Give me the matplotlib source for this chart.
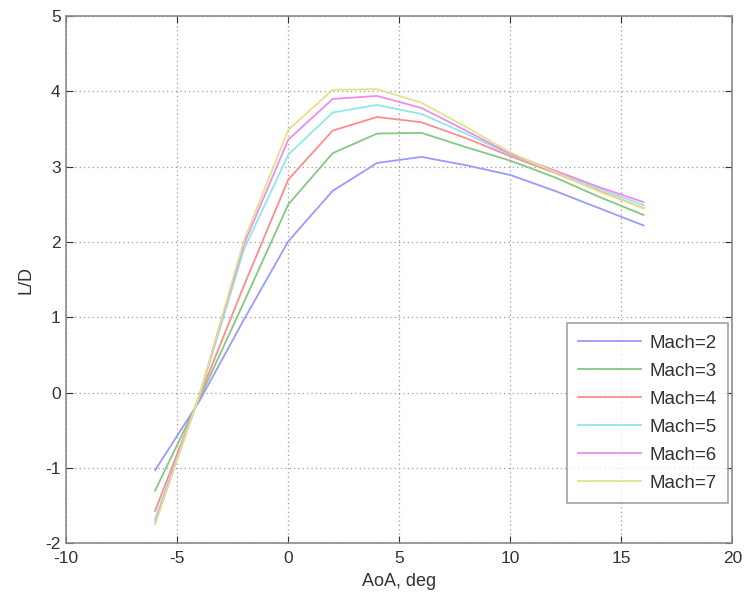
import matplotlib.pyplot as plt

plt.rcParams['font.family'] = ['Liberation Sans', 'DejaVu Sans']
plt.rcParams['axes.unicode_minus'] = False

aoa = [-6, -4, -2, 0, 2, 4, 6, 8, 10, 12, 14, 16]
ld_mach2 = [-1.03, -0.11, 0.97, 2.01, 2.68, 3.05, 3.13, 3.02, 2.89, 2.68, 2.45, 2.22]
ld_mach3 = [-1.30, -0.08, 1.20, 2.50, 3.18, 3.44, 3.45, 3.26, 3.08, 2.86, 2.60, 2.36]
ld_mach4 = [-1.57, -0.05, 1.42, 2.83, 3.48, 3.66, 3.59, 3.38, 3.14, 2.92, 2.68, 2.45]
ld_mach5 = [-1.68, -0.04, 1.90, 3.16, 3.72, 3.82, 3.70, 3.44, 3.16, 2.94, 2.71, 2.49]
ld_mach6 = [-1.72, -0.03, 1.97, 3.36, 3.90, 3.94, 3.78, 3.48, 3.17, 2.95, 2.73, 2.53]
ld_mach7 = [-1.75, -0.03, 2.02, 3.49, 4.02, 4.03, 3.85, 3.53, 3.19, 2.93, 2.67, 2.45]

rotulos = ["Mach=2", "Mach=3", "Mach=4", "Mach=5", "Mach=6", "Mach=7"]
series = [ld_mach2, ld_mach3, ld_mach4, ld_mach5, ld_mach6, ld_mach7]
cores = ["#9a9aff", "#84c884", "#ff8c8c", "#8ee8e8", "#ee8cee", "#e2e28a"]

fig = plt.figure(figsize=(7.44, 5.96), dpi=100)
ax = fig.add_axes([0.0891, 0.0884, 0.8952, 0.8846])

for valores, cor, rotulo in zip(series, cores, rotulos):
    ax.plot(aoa, valores, color=cor, linewidth=1.3, label=rotulo)

ax.set_xlim(-10, 20)
ax.set_ylim(-2, 5)
ax.set_xticks(range(-10, 21, 5))
ax.set_yticks(range(-2, 6))
ax.grid(True, linestyle=(0, (1, 2.5)), color="#9a9a9a", linewidth=0.9)
ax.tick_params(direction="in", top=True, right=True, labelsize=12.5,
               colors="#333333", length=5)
ax.tick_params(axis="x", pad=5.5)
ax.tick_params(axis="y", pad=4)
for lado in ax.spines.values():
    lado.set_color("#8a8a8a")
    lado.set_linewidth(1.2)

ax.set_xlabel("AoA, deg", fontsize=13, color="#333333", labelpad=5)
ax.set_ylabel("L/D", fontsize=13, color="#333333", labelpad=8)

legenda = ax.legend(loc="lower right", bbox_to_anchor=(0.9935, 0.0764),
                    fontsize=13.5, frameon=True, fancybox=False,
                    handlelength=3.36, handletextpad=0.45, labelspacing=0.58,
                    borderpad=0.6, borderaxespad=0)
legenda.get_frame().set_edgecolor("#8a8a8a")
legenda.get_frame().set_linewidth(1.2)
for texto in legenda.get_texts():
    texto.set_color("#333333")

fig.savefig("out.png", dpi=100)
